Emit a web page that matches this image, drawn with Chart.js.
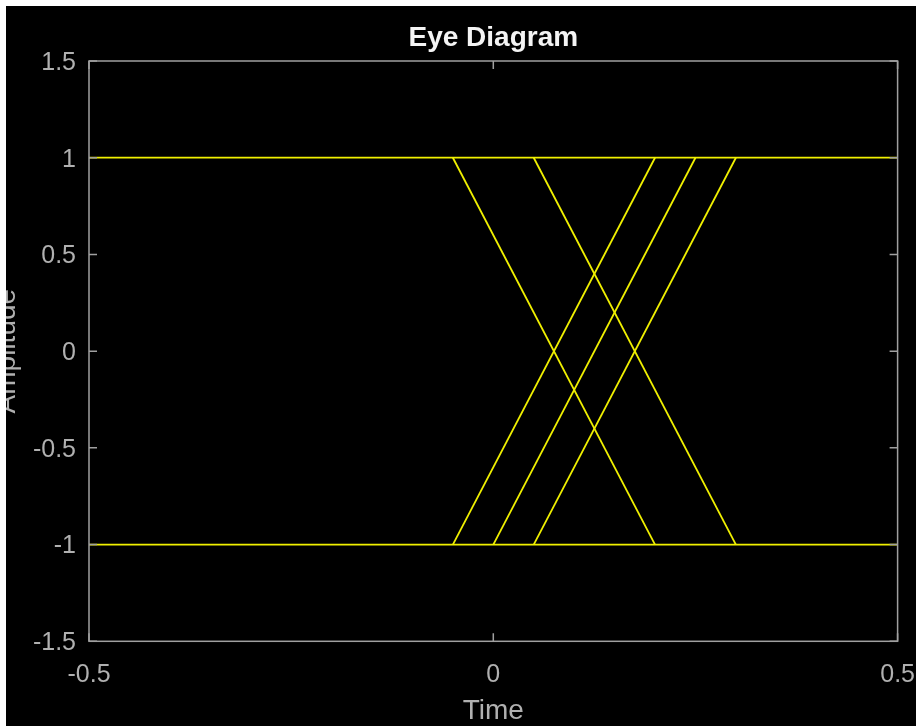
<!DOCTYPE html>
<html>
<head>
<meta charset="utf-8">
<title>Eye Diagram</title>
<script src="https://cdn.jsdelivr.net/npm/chart.js@4"></script>
<style>
  html, body { margin: 0; padding: 0; background: #fff; }
  #wrap { position: absolute; left: 6px; top: 6px; width: 910px; height: 720px; background: #000; }
</style>
</head>
<body>
<div id="wrap"><canvas id="eye"></canvas></div>
<script>
// axis ticks
const xTicks = [-0.5, 0, 0.5];
const xTickLabels = ['-0.5', '0', '0.5'];
const yTicks = [-1.5, -1, -0.5, 0, 0.5, 1, 1.5];
const yTickLabels = ['-1.5', '-1', '-0.5', '0', '0.5', '1', '1.5'];

// signal traces
const timeSpan = [-0.5, 0.5];
const levels = [1, -1];
const fallStart = [-0.05, 0.05];
const fallEnd = [0.2, 0.3];
const riseStart = [-0.05, 0, 0.05];
const riseEnd = [0.2, 0.25, 0.3];

const lineColor = '#f0f000';
const axisColor = '#a0a0a0';
const textColor = '#b0b0b0';

Chart.defaults.font.family = '"Liberation Sans", Arial, Helvetica, sans-serif';

// build one dataset per trace segment
const traces = [];
levels.forEach(lvl => {
  traces.push([{ x: timeSpan[0], y: lvl }, { x: timeSpan[1], y: lvl }]);
});
fallStart.forEach((t, i) => {
  traces.push([{ x: t, y: levels[0] }, { x: fallEnd[i], y: levels[1] }]);
});
riseStart.forEach((t, i) => {
  traces.push([{ x: t, y: levels[1] }, { x: riseEnd[i], y: levels[0] }]);
});

const datasets = traces.map(pts => ({
  data: pts,
  borderColor: lineColor,
  borderWidth: 1.8,
  pointRadius: 0,
  fill: false,
  tension: 0
}));

// box round the axes, inward ticks on all four sides, rotated y label
const framePlugin = {
  id: 'frame',
  afterDatasetsDraw(chart) {
    const { ctx, chartArea: a, scales } = chart;
    const len = 8;
    ctx.save();
    ctx.strokeStyle = axisColor;
    ctx.lineWidth = 1.5;
    ctx.strokeRect(a.left, a.top, a.right - a.left, a.bottom - a.top);
    ctx.beginPath();
    scales.x.ticks.forEach(t => {
      const px = scales.x.getPixelForValue(t.value);
      ctx.moveTo(px, a.bottom); ctx.lineTo(px, a.bottom - len);
      ctx.moveTo(px, a.top); ctx.lineTo(px, a.top + len);
    });
    scales.y.ticks.forEach(t => {
      const py = scales.y.getPixelForValue(t.value);
      ctx.moveTo(a.left, py); ctx.lineTo(a.left + len, py);
      ctx.moveTo(a.right, py); ctx.lineTo(a.right - len, py);
    });
    ctx.stroke();

    ctx.translate(1, (a.top + a.bottom) / 2);
    ctx.rotate(-Math.PI / 2);
    ctx.fillStyle = textColor;
    ctx.font = '28px "Liberation Sans", Arial, sans-serif';
    ctx.textAlign = 'center';
    ctx.textBaseline = 'middle';
    ctx.fillText('Amplitude', 0, 0);
    ctx.restore();
  }
};

new Chart(document.getElementById('eye'), {
  type: 'line',
  data: { datasets: datasets },
  plugins: [framePlugin],
  options: {
    responsive: true,
    maintainAspectRatio: false,
    animation: false,
    layout: { padding: { left: 0, right: 18.4, top: 0, bottom: 0 } },
    plugins: {
      legend: { display: false },
      tooltip: { enabled: false },
      title: {
        display: true,
        fullSize: false,
        text: 'Eye Diagram',
        color: '#f4f4f4',
        font: { size: 28, weight: 'bold' },
        padding: { top: 15, bottom: 6.4 }
      }
    },
    scales: {
      x: {
        type: 'linear',
        min: timeSpan[0],
        max: timeSpan[1],
        afterBuildTicks: s => { s.ticks = xTicks.map(v => ({ value: v })); },
        afterFit: s => { s.height = 84.7; s.paddingLeft = 0; s.paddingRight = 0; },
        grid: { display: false, drawTicks: false },
        border: { display: false },
        ticks: {
          color: textColor,
          font: { size: 25 },
          padding: 18.5,
          maxRotation: 0,
          autoSkip: false,
          callback: (v, i) => xTickLabels[i]
        },
        title: {
          display: true,
          text: 'Time',
          color: textColor,
          font: { size: 28, lineHeight: 1.05 },
          padding: { top: 0, bottom: 0 }
        }
      },
      y: {
        type: 'linear',
        min: yTicks[0],
        max: yTicks[yTicks.length - 1],
        afterBuildTicks: s => { s.ticks = yTicks.map(v => ({ value: v })); },
        afterFit: s => { s.width = 83; s.paddingTop = 0; s.paddingBottom = 0; },
        grid: { display: false, drawTicks: false },
        border: { display: false },
        ticks: {
          color: textColor,
          font: { size: 25 },
          padding: 13,
          labelOffset: 2,
          autoSkip: false,
          callback: (v, i) => yTickLabels[i]
        }
      }
    }
  }
});
</script>
</body>
</html>
